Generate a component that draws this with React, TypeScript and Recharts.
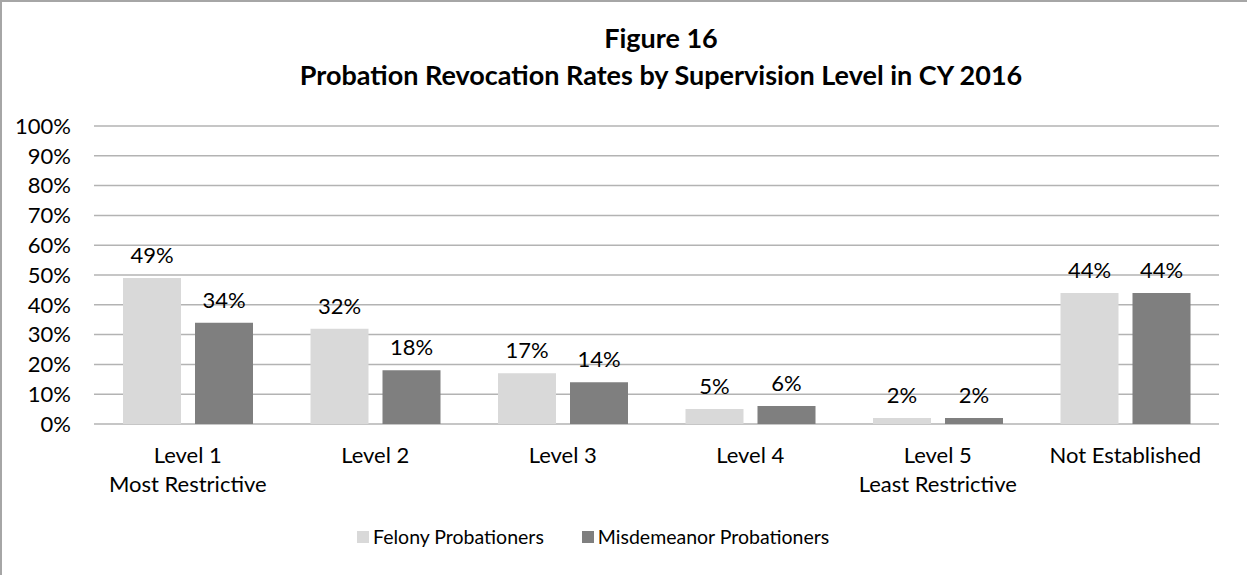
import { BarChart, Bar, XAxis, YAxis, CartesianGrid, LabelList } from 'recharts';

const categories = ['Level 1\nMost Restrictive', 'Level 2', 'Level 3', 'Level 4', 'Level 5\nLeast Restrictive', 'Not Established'];
const felony = [49, 32, 17, 5, 2, 44];
const misdemeanor = [34, 18, 14, 6, 2, 44];
const yTicks = [0, 10, 20, 30, 40, 50, 60, 70, 80, 90, 100];

const FONT = "Lato, 'Open Sans', sans-serif";
const LIGHT = '#d9d9d9';
const DARK = '#7f7f7f';

const data = categories.map((c, i) => ({ cat: c, felony: felony[i], misd: misdemeanor[i] }));

function CatTick(props: any) {
  const { x, y, payload } = props;
  const lines = String(payload.value).split('\n');
  return (
    <text x={x} y={y} textAnchor="middle" fill="#000" fontSize={22} fontFamily={FONT}>
      {lines.map((l, i) => (
        <tspan key={i} x={x} dy={i === 0 ? 39 : 29}>{l}</tspan>
      ))}
    </text>
  );
}

function LegendBox() {
  const items = [
    { name: 'Felony Probationers', color: LIGHT },
    { name: 'Misdemeanor Probationers', color: DARK },
  ];
  return (
    <div style={{ position: 'absolute', top: 525, left: 357, display: 'flex', alignItems: 'center', fontFamily: FONT, fontSize: 19.5, color: '#000' }}>
      {items.map((it, i) => (
        <div key={it.name} style={{ display: 'flex', alignItems: 'center', marginRight: i === 0 ? 38 : 0 }}>
          <span style={{ width: 12, height: 12, background: it.color, marginRight: 4, display: 'inline-block' }} />
          <span>{it.name}</span>
        </div>
      ))}
    </div>
  );
}

export default function App() {
  return (
    <div style={{ position: 'absolute', top: 0, left: 0, width: 1247, height: 575, background: '#fff' }}>
      <div style={{ position: 'absolute', top: 0, left: 0, width: 1247, height: 575, borderTop: '2px solid #a6a6a6', borderLeft: '2px solid #a6a6a6', boxSizing: 'border-box', pointerEvents: 'none', zIndex: 2 }} />
      <div style={{ position: 'absolute', top: 19, left: 0, width: 1322, textAlign: 'center', fontFamily: FONT, fontWeight: 700, fontSize: 27, lineHeight: '37px', color: '#000' }}>
        <div>Figure 16</div>
        <div>Probation Revocation Rates by Supervision Level in CY 2016</div>
      </div>
      <BarChart width={1247} height={575} data={data} margin={{ top: 126, right: 28, bottom: 71, left: 0 }} barSize={58} barGap={14}>
        <CartesianGrid vertical={false} stroke="#b3b3b3" strokeWidth={1.5} />
        <XAxis dataKey="cat" axisLine={false} tickLine={false} tickSize={0} tickMargin={0} height={80} interval={0} tick={<CatTick />} />
        <YAxis domain={[0, 100]} ticks={yTicks} interval={0} tickFormatter={(v: number) => v + '%'} width={94} axisLine={false} tickLine={false} tickSize={0} tickMargin={23} tick={{ fill: '#000', fontSize: 22, fontFamily: FONT }} />
        <Bar dataKey="felony" name="Felony Probationers" fill={LIGHT} isAnimationActive={false}>
          <LabelList dataKey="felony" position="top" offset={15} formatter={(v: any) => v + '%'} fill="#000" fontSize={22} fontFamily={FONT} />
        </Bar>
        <Bar dataKey="misd" name="Misdemeanor Probationers" fill={DARK} isAnimationActive={false}>
          <LabelList dataKey="misd" position="top" offset={15} formatter={(v: any) => v + '%'} fill="#000" fontSize={22} fontFamily={FONT} />
        </Bar>
      </BarChart>
      <LegendBox />
    </div>
  );
}
